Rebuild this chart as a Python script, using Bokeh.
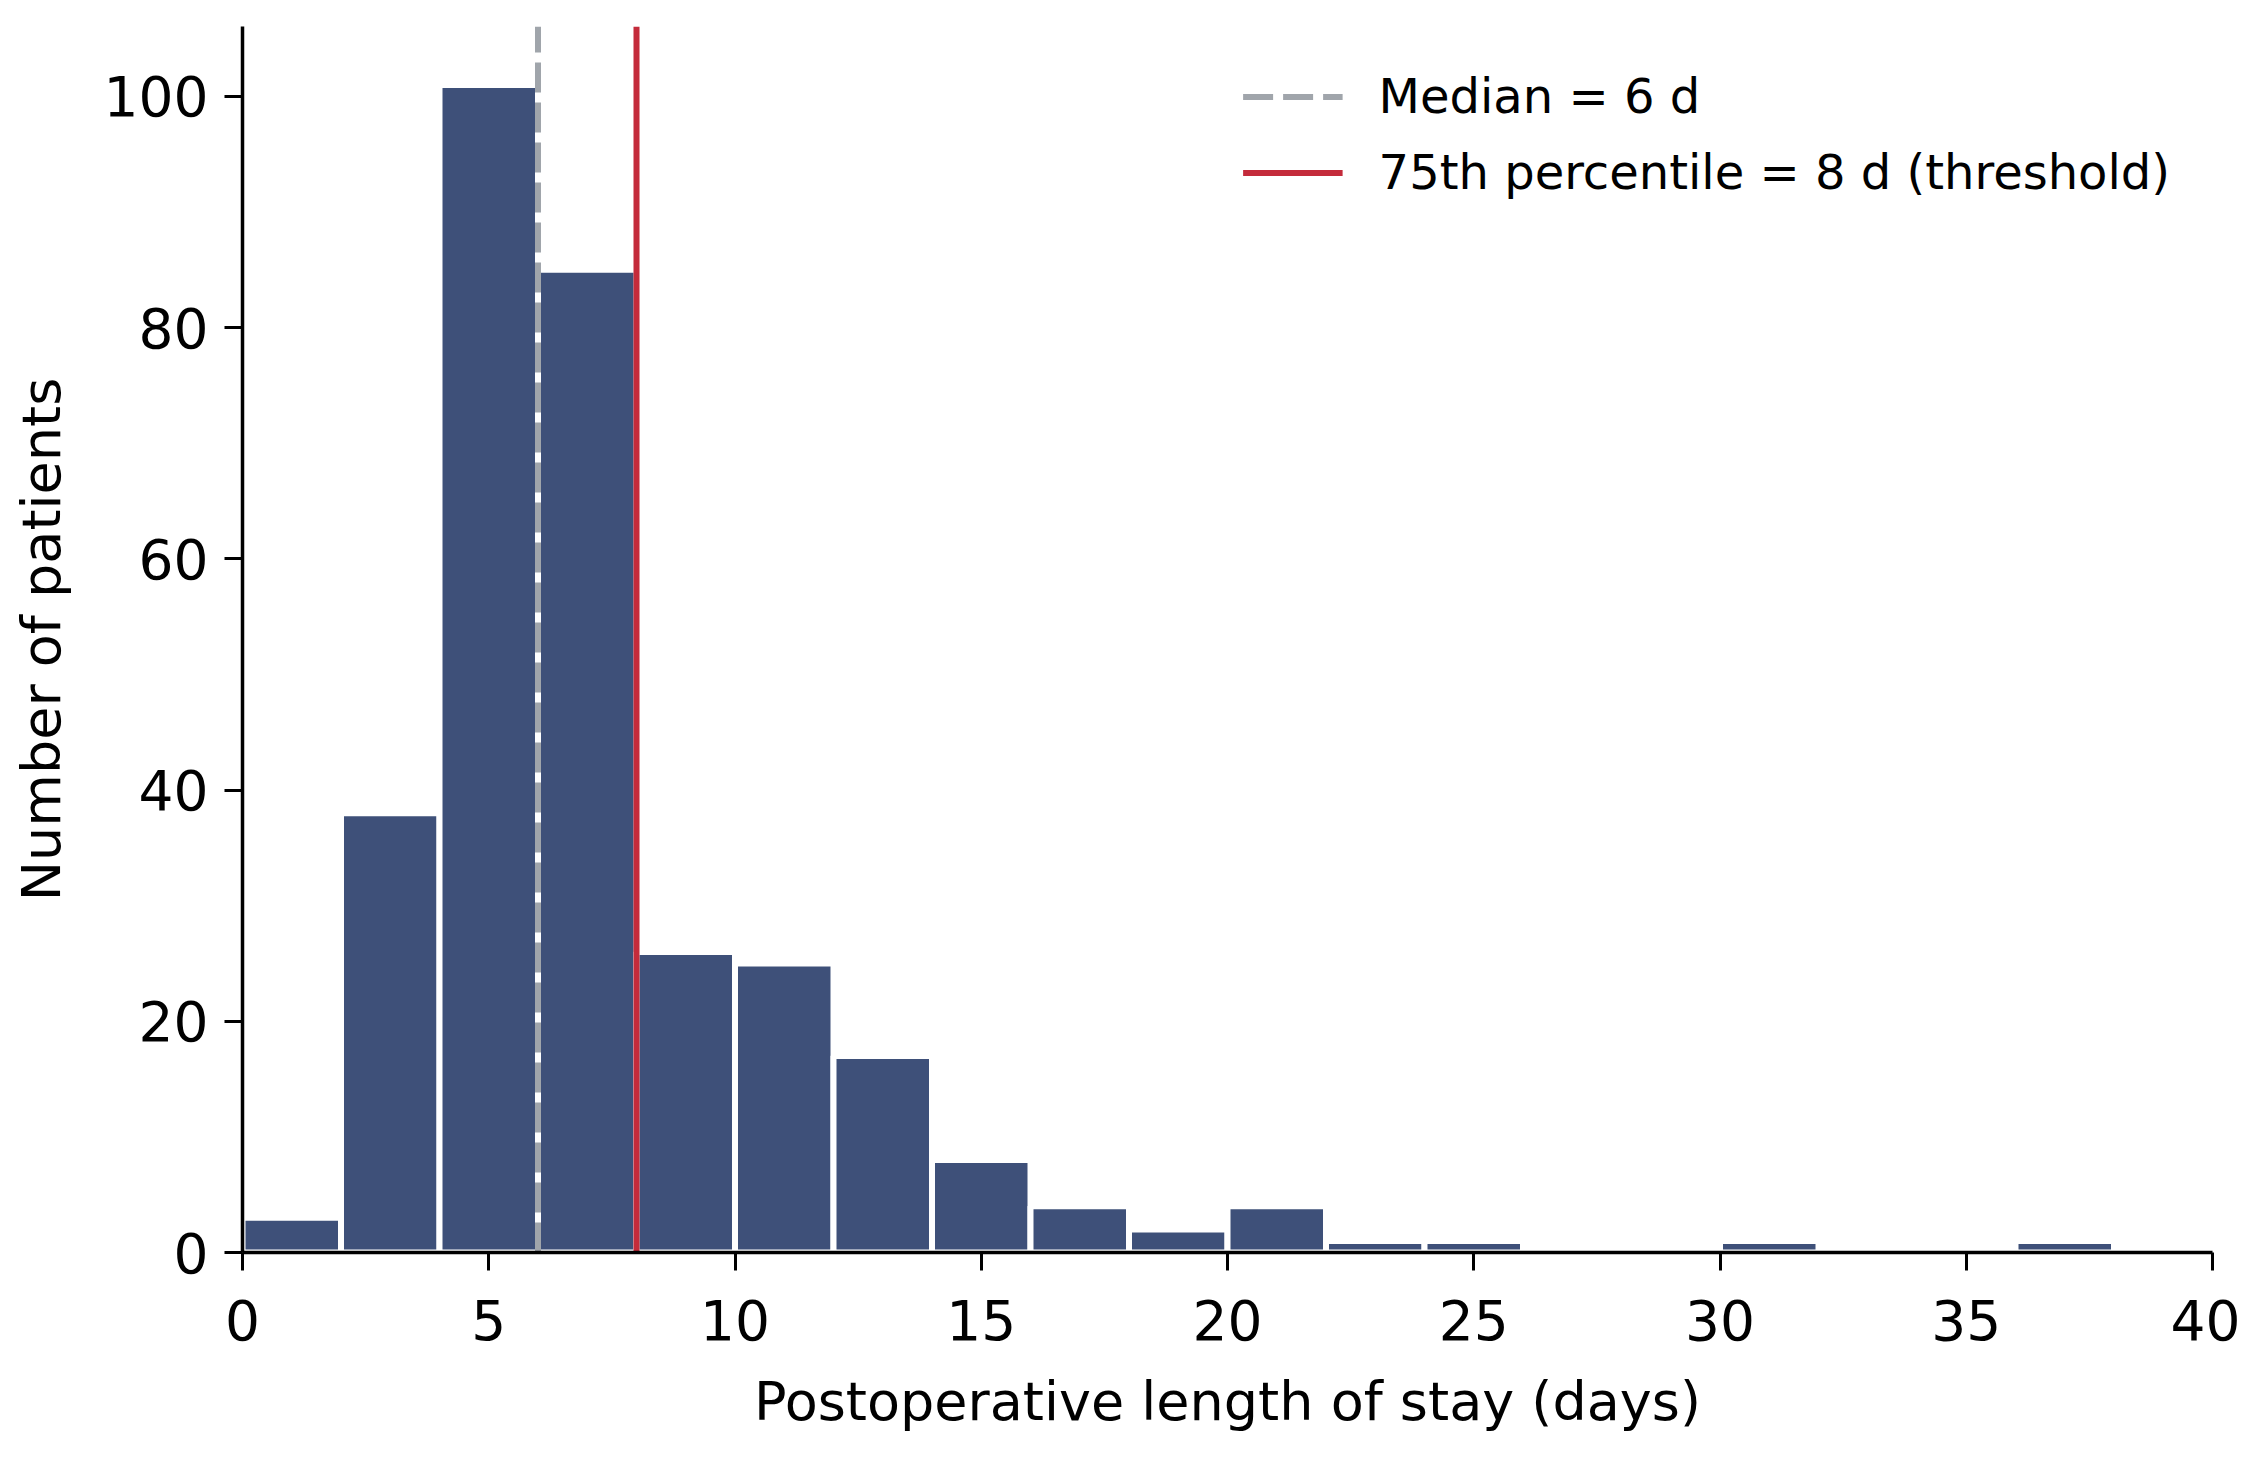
from bokeh.plotting import figure
from bokeh.models import FixedTicker, Range1d
from bokeh.embed import file_html
from bokeh.resources import INLINE

# ---- data ----
bin_edges = list(range(0, 42, 2))
counts = [3, 38, 101, 85, 26, 25, 17, 8, 4, 2, 4, 1, 1, 0, 0, 1, 0, 0, 1, 0]
median_los = 6
p75_los = 8
x_ticks = [0, 5, 10, 15, 20, 25, 30, 35, 40]
y_ticks = [0, 20, 40, 60, 80, 100]
x_label = "Postoperative length of stay (days)"
y_label = "Number of patients"
median_label = "Median = 6 d"
p75_label = "75th percentile = 8 d (threshold)"

BAR = "#3e5079"
RED = "#c42b3b"
GRAY = "#a0a5ab"
FONT = "DejaVu Sans"

ymax = max(counts) * 1.05

p = figure(width=2240, height=1444, output_backend="svg", toolbar_location=None,
           x_range=Range1d(0, 40), y_range=Range1d(0, ymax),
           min_border_left=242, min_border_right=28, min_border_top=26, min_border_bottom=192)

lefts = [bin_edges[i] for i in range(len(counts)) if counts[i] > 0]
rights = [bin_edges[i + 1] for i in range(len(counts)) if counts[i] > 0]
tops = [c for c in counts if c > 0]
p.quad(left=lefts, right=rights, top=tops, bottom=0,
       fill_color=BAR, line_color="white", line_width=6)

p.segment(x0=[median_los], y0=[0], x1=[median_los], y1=[ymax],
          line_color=GRAY, line_width=6, line_dash="30 10", legend_label=median_label)
p.segment(x0=[p75_los], y0=[0], x1=[p75_los], y1=[ymax],
          line_color=RED, line_width=6, legend_label=p75_label)

p.outline_line_color = None
p.xgrid.grid_line_color = None
p.ygrid.grid_line_color = None
p.background_fill_color = "white"

for ax, ticks in ((p.xaxis, x_ticks), (p.yaxis, y_ticks)):
    ax.ticker = FixedTicker(ticks=ticks)
    ax.minor_tick_line_color = None
    ax.major_tick_in = 0
    ax.major_tick_out = 18
    ax.major_tick_line_width = 3
    ax.axis_line_width = 3.5
    ax.axis_line_color = "black"
    ax.major_tick_line_color = "black"
    ax.major_label_text_font = FONT
    ax.major_label_text_font_size = "55px"
    ax.major_label_text_color = "black"
    ax.axis_label_text_font = FONT
    ax.axis_label_text_font_size = "54px"
    ax.axis_label_text_font_style = "normal"
    ax.axis_label_text_color = "black"

p.yaxis.major_label_standoff = 16
p.xaxis.major_label_standoff = 29
p.xaxis.axis_label = x_label
p.yaxis.axis_label = y_label
p.xaxis.axis_label_standoff = 27
p.yaxis.axis_label_standoff = 28

lg = p.legend[0]
lg.location = "top_right"
lg.border_line_color = None
lg.background_fill_alpha = 0
lg.label_text_font = FONT
lg.label_text_font_size = "48px"
lg.label_text_color = "black"
lg.glyph_width = 100
lg.glyph_height = 55
lg.label_height = 55
lg.label_standoff = 36
lg.spacing = 20
lg.margin = 42
lg.padding = 32

open("out.html", "w").write(file_html(p, INLINE))
